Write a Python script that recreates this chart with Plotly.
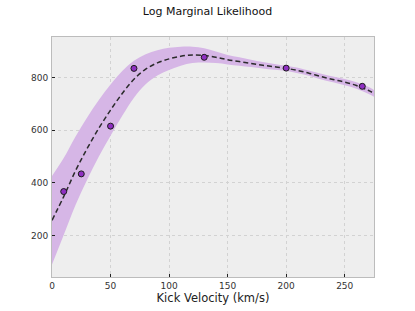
import plotly.graph_objects as go

# Observed data points
obs_x = [10, 25, 50, 70, 130, 200, 265]
obs_y = [367, 434, 615, 834, 876, 835, 766]

# GP mean curve
curve_x = [0, 10, 20, 30, 40, 50, 60, 70, 80, 90, 100, 110, 120, 130, 140, 150,
           160, 170, 180, 190, 200, 210, 220, 230, 240, 250, 260, 270, 275]
curve_mean = [258, 348, 445, 530, 607, 676, 739, 793, 831, 855, 870, 880, 885, 883,
              876, 867, 860, 853, 846, 840, 834, 826, 815, 803, 792, 782, 769, 751, 739]
# half-width of the uncertainty band
curve_sd = [168, 146, 130, 118, 107, 97, 85, 70, 57, 48, 42, 36, 31, 27,
            22, 18, 16, 14, 12, 11, 10, 10, 10, 11, 11, 12, 12, 13, 13]

upper = [m + s for m, s in zip(curve_mean, curve_sd)]
lower = [m - s for m, s in zip(curve_mean, curve_sd)]

xticks = [0, 50, 100, 150, 200, 250]
yticks = [200, 400, 600, 800]

band_color = "rgb(214,182,230)"
font_family = "DejaVu Sans"

fig = go.Figure()
fig.add_trace(go.Scatter(x=curve_x, y=upper, mode="lines", line=dict(width=0, shape="spline"),
                         hoverinfo="skip", showlegend=False))
fig.add_trace(go.Scatter(x=curve_x, y=lower, mode="lines", line=dict(width=0, shape="spline"),
                         fill="tonexty", fillcolor=band_color, hoverinfo="skip", showlegend=False))
fig.add_trace(go.Scatter(x=curve_x, y=curve_mean, mode="lines",
                         line=dict(color="#2b2b2b", width=1.5, dash="5px,3px", shape="spline"),
                         showlegend=False))
fig.add_trace(go.Scatter(x=obs_x, y=obs_y, mode="markers",
                         marker=dict(size=6, color="#8f2fc2", line=dict(color="#1a1a1a", width=1)),
                         showlegend=False))

axis_common = dict(showgrid=True, gridcolor="#d2d2d2", griddash="dot", gridwidth=1,
                   showline=True, linecolor="#bcbcbc", linewidth=1, mirror=True,
                   zeroline=False, ticks="inside", ticklen=3, tickcolor="#222222",
                   automargin=False,
                   tickfont=dict(family=font_family, size=9, color="#333333"))

fig.update_layout(
    width=415, height=311,
    margin=dict(l=52, r=41, t=37, b=34),
    paper_bgcolor="white", plot_bgcolor="#eeeeee",
    title=dict(text="Log Marginal Likelihood", x=0.5, xanchor="center", y=0.963, yanchor="middle",
               font=dict(family=font_family, size=11, color="#111111")),
    xaxis=dict(range=[0, 275], tickvals=xticks, ticklabelstandoff=0,
               title=dict(text="Kick Velocity (km/s)", standoff=2,
                          font=dict(family=font_family, size=11.5, color="#222222")),
               **axis_common),
    yaxis=dict(range=[43, 953], tickvals=yticks, ticklabelstandoff=1, **axis_common),
)

fig.write_html("out.html", config={"displayModeBar": False},
               post_script="document.body.style.margin='0px';")
